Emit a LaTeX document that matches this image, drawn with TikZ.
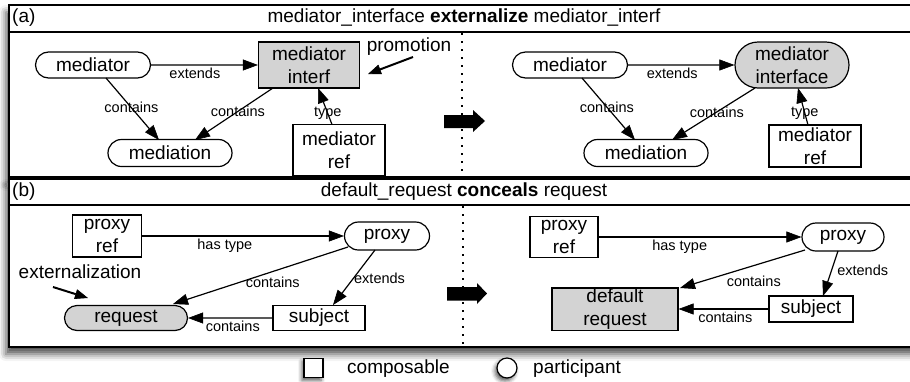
\documentclass[tikz,border=0pt]{standalone}
\usepackage{fontspec}
\setmainfont{Liberation Sans}
\usetikzlibrary{arrows.meta,shapes.misc,calc,shadows.blur}
\definecolor{hotgray}{RGB}{211,211,211}

\begin{document}
\begin{tikzpicture}[x=1pt,y=-1pt,
  every node/.style={font=\fontsize{19}{22.5}\selectfont, inner sep=1pt},
  part/.style={rounded rectangle, draw, line width=1.2pt, align=center, fill=white},
  comp/.style={rectangle, draw, line width=1.2pt, align=center, fill=white},
  hot/.style={fill=hotgray},
  lbl/.style={font=\fontsize{14.5}{16}\selectfont, inner sep=2pt},
  rel/.style={line width=1.2pt, -{Triangle[length=15pt,width=11pt,fill=black,line width=0.6pt]}},
  hint/.style={line width=2pt, -{Triangle[length=13pt,width=10pt,fill=black,line width=0.6pt]}},
  panel/.style={draw, line width=1.6pt, fill=white,
    blur shadow={shadow xshift=-3pt, shadow yshift=-7pt, shadow blur radius=7pt, shadow opacity=70}},
  rule/.style={line width=1.6pt},
  divider/.style={line width=1.6pt, dash pattern=on 2pt off 6pt},
  keyshadow/.style={blur shadow={shadow xshift=-2pt, shadow yshift=-3pt, shadow blur radius=4pt, shadow opacity=65}},
]
\useasboundingbox (0,0) rectangle (910,381);

% ---------------- panel (a) ----------------
\draw[panel] (9,5) rectangle (922,177);
\draw[rule] (9,32) -- (922,32);
\node[anchor=west] (taga) at (11,18) {(a)};
\node (titlea) at (464,18) {mediator\_interface \textbf{externalize} mediator\_interf};

% before
\node[part, minimum width=117pt, minimum height=26pt] (a1med) at (93,65) {mediator};
\node[comp, hot, minimum width=101pt, minimum height=46pt] (a1int) at (309,65) {mediator\\interf};
\node[part, minimum width=126pt, minimum height=27pt] (a1mtn) at (170,153) {mediation};
\node[comp, minimum width=92pt, minimum height=51pt] (a1ref) at (339,150) {mediator\\ref};

\draw[rel] (a1med) -- node[lbl, below, pos=0.41] {extends} (a1int);
\draw[rel] ($(a1med)+(13,13)$) -- node[lbl, pos=0.48] {contains} ($(a1mtn)+(-11,-13)$);
\draw[rel] ($(a1int)+(-36,23)$) -- node[lbl, pos=0.45] {contains} ($(a1mtn)+(25,-13)$);
\draw[rel] ($(a1ref)+(-7,-25.5)$) -- node[lbl, pos=0.3] {type} ($(a1int)+(9,23)$);

\node (promo) at (409,47) {promotion};
\coordinate (promoA) at (413,57);
\coordinate (promoB) at (368,74);
\draw[hint] (promoA) -- (promoB);

\draw[divider] (462,33) -- (462,176);
\fill (444,115) -- (473,115) -- (473,110) -- (485,121) -- (473,132) -- (473,128) -- (444,128) -- cycle;

% after
\node[part, minimum width=117pt, minimum height=26pt] (a2med) at (570,65) {mediator};
\node[part, hot, minimum width=116pt, minimum height=46pt] (a2int) at (792,65) {mediator\\interface};
\node[part, minimum width=126pt, minimum height=27pt] (a2mtn) at (646,153) {mediation};
\node[comp, minimum width=92pt, minimum height=42pt] (a2ref) at (815,146) {mediator\\ref};

\draw[rel] (a2med) -- node[lbl, below, pos=0.415] {extends} (a2int);
\draw[rel] ($(a2med)+(12,13)$) -- node[lbl, pos=0.47] {contains} ($(a2mtn)+(-11,-13)$);
\draw[rel] ($(a2int)+(-37,23)$) -- node[lbl, pos=0.46] {contains} ($(a2mtn)+(26,-13)$);
\draw[rel] ($(a2ref)+(-7,-21)$) -- node[lbl, pos=0.32] {type} ($(a2int)+(6,23)$);

% ---------------- panel (b) ----------------
\draw[panel] (9,179) rectangle (922,347);
\draw[rule] (9,205) -- (922,205);
\node[anchor=west] (tagb) at (11,192) {(b)};
\node (titleb) at (464,192) {default\_request \textbf{conceals} request};

% before
\node[comp, minimum width=69pt, minimum height=42pt] (b1ref) at (107,236) {proxy\\ref};
\node[part, minimum width=87pt, minimum height=28pt] (b1prx) at (387,236) {proxy};
\node[part, hot, minimum width=125pt, minimum height=25pt] (b1req) at (126,318) {request};
\node[comp, minimum width=92pt, minimum height=25pt] (b1sub) at (319,318) {subject};

\draw[rel] (b1ref) -- node[lbl, below, pos=0.41] {has type} (b1prx);
\draw[rel] ($(b1prx)+(-39,11)$) -- node[lbl, pos=0.43, anchor=north, yshift=-2.5pt] {contains} ($(b1req)+(47,-14)$);
\draw[rel] ($(b1prx)+(-12,14)$) -- node[lbl, pos=0.51, anchor=west, inner sep=0pt] {extends} ($(b1sub)+(14,-13)$);
\draw[rel] (b1sub) -- node[lbl, below, pos=0.47] {contains} (b1req);

\node (extn) at (80,272) {externalization};
\coordinate (extnA) at (53,287);
\coordinate (extnB) at (88,298);
\draw[hint] (extnA) -- (extnB);

\draw[divider] (463,206) -- (463,346);
\fill (447,287) -- (477,287) -- (477,283) -- (487,293.5) -- (477,304) -- (477,300.5) -- (447,300.5) -- cycle;

% after
\node[comp, minimum width=68pt, minimum height=41pt] (b2ref) at (564,237) {proxy\\ref};
\node[part, minimum width=84pt, minimum height=28pt] (b2prx) at (843,237) {proxy};
\node[comp, hot, minimum width=126pt, minimum height=42pt] (b2def) at (615,309) {default\\request};
\node[comp, minimum width=84pt, minimum height=26pt] (b2sub) at (811,309) {subject};

\draw[rel] (b2ref) -- node[lbl, below, pos=0.40] {has type} (b2prx);
\draw[rel] ($(b2prx)+(-38,13)$) -- node[lbl, pos=0.41, anchor=north, yshift=-8pt] {contains} ($(b2def)+(65,-21)$);
\draw[rel] ($(b2prx)+(-5,14)$) -- node[lbl, pos=0.42, anchor=west, inner sep=0pt, xshift=5pt] {extends} ($(b2sub)+(12,-13)$);
\draw[rel] (b2sub) -- node[lbl, below, pos=0.48] {contains} (b2def);

% ---------------- key ----------------
\node[comp, minimum size=19pt, keyshadow] (keyc) at (313.5,368) {};
\node[anchor=west] (keyct) at (346,369) {composable};
\node[circle, draw, line width=1.2pt, fill=white, minimum size=20pt, keyshadow] (keyp) at (507,368) {};
\node[anchor=west] (keypt) at (532,369) {participant};
\end{tikzpicture}
\end{document}
